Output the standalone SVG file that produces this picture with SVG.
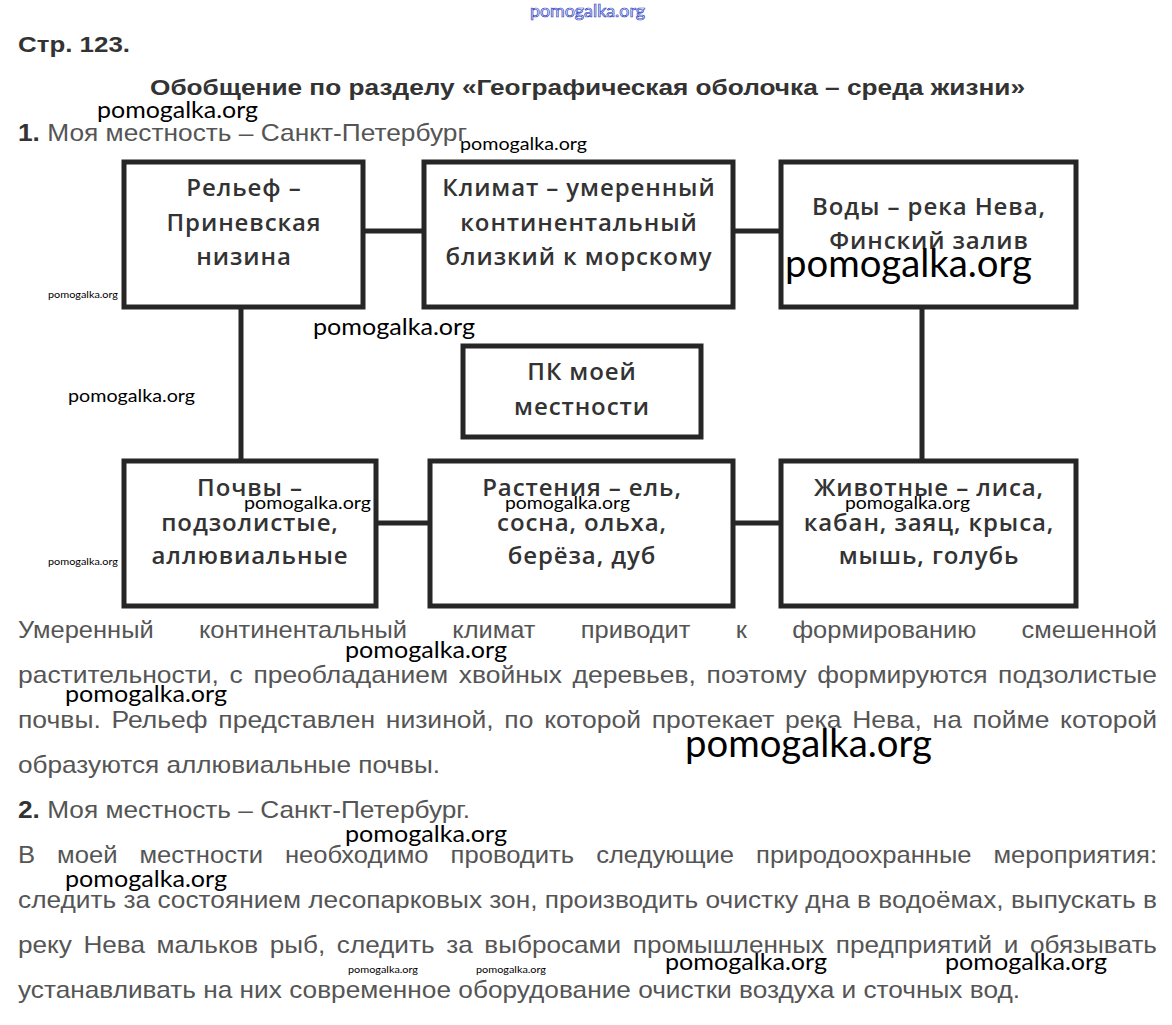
<svg xmlns="http://www.w3.org/2000/svg" width="1172" height="1025" viewBox="0 0 1172 1025">
<style>
.bx{fill:#fff;stroke:#262626;stroke-width:5}
.ln{stroke:#262626;stroke-width:5;fill:none}
.bt{font-family:"Open Sans","DejaVu Sans",sans-serif;font-size:24px;font-weight:600;fill:#333;text-anchor:middle;letter-spacing:0.9px}
.tx{font-family:"Liberation Sans",Arial,sans-serif;font-size:24px;fill:#555}
.hd{font-family:"Liberation Sans",Arial,sans-serif;font-size:22px;fill:#333;font-weight:bold}
.wm{font-family:Lato,"Open Sans",sans-serif;fill:#000}
</style>
<rect width="1172" height="1025" fill="#fff"/>
<text x="530" y="17" font-family="Lato,sans-serif" font-size="17" fill="#fff" stroke="#2a3cc0" stroke-width="0.7" textLength="115" lengthAdjust="spacingAndGlyphs">pomogalka.org</text>
<text x="18" y="52" class="hd" textLength="112" lengthAdjust="spacingAndGlyphs">Стр. 123.</text>
<text x="150" y="95" class="hd" textLength="875" lengthAdjust="spacingAndGlyphs">Обобщение по разделу «Географическая оболочка – среда жизни»</text>
<text x="18" y="141" class="tx" textLength="449" lengthAdjust="spacingAndGlyphs"><tspan font-weight="bold" fill="#333">1.</tspan> Моя местность – Санкт-Петербург</text>
<g id="connectors">
<line class="ln" x1="363" y1="231" x2="424" y2="231"/>
<line class="ln" x1="733" y1="231" x2="781" y2="231"/>
<line class="ln" x1="241" y1="307" x2="241" y2="461"/>
<line class="ln" x1="922" y1="307" x2="922" y2="461"/>
<line class="ln" x1="376" y1="523" x2="430" y2="523"/>
<line class="ln" x1="733" y1="523" x2="781" y2="523"/>
</g>
<g id="relief"><rect class="bx" x="124" y="162" width="239" height="145"/>
<text class="bt" x="244" y="196">Рельеф –</text><text class="bt" x="244" y="231">Приневская</text><text class="bt" x="244" y="265">низина</text></g>
<g id="climate"><rect class="bx" x="424" y="162" width="309" height="145"/>
<text class="bt" x="579" y="196">Климат – умеренный</text><text class="bt" x="579" y="231">континентальный</text><text class="bt" x="579" y="265">близкий к морскому</text></g>
<g id="waters"><rect class="bx" x="781" y="162" width="295" height="145"/>
<text class="bt" x="929" y="215">Воды – река Нева,</text><text class="bt" x="929" y="249">Финский залив</text></g>
<g id="pk"><rect class="bx" x="463" y="346" width="238" height="91"/>
<text class="bt" x="582" y="380">ПК моей</text><text class="bt" x="582" y="415">местности</text></g>
<g id="soils"><rect class="bx" x="124" y="461" width="252" height="145"/>
<text class="bt" x="250" y="496">Почвы –</text><text class="bt" x="250" y="531">подзолистые,</text><text class="bt" x="250" y="564">аллювиальные</text></g>
<g id="plants"><rect class="bx" x="430" y="461" width="303" height="145"/>
<text class="bt" x="582" y="496">Растения – ель,</text><text class="bt" x="582" y="531">сосна, ольха,</text><text class="bt" x="582" y="564">берёза, дуб</text></g>
<g id="animals"><rect class="bx" x="781" y="461" width="295" height="145"/>
<text class="bt" x="929" y="496">Животные – лиса,</text><text class="bt" x="929" y="531">кабан, заяц, крыса,</text><text class="bt" x="929" y="564">мышь, голубь</text></g>
<text class="tx" x="18" y="638" word-spacing="36" textLength="1139" lengthAdjust="spacingAndGlyphs">Умеренный континентальный климат приводит к формированию смешенной</text>
<text class="tx" x="18" y="683" word-spacing="3" textLength="1139" lengthAdjust="spacingAndGlyphs">растительности, с преобладанием хвойных деревьев, поэтому формируются подзолистые</text>
<text class="tx" x="18" y="728" word-spacing="3" textLength="1139" lengthAdjust="spacingAndGlyphs">почвы. Рельеф представлен низиной, по которой протекает река Нева, на пойме которой</text>
<text class="tx" x="18" y="773" textLength="422" lengthAdjust="spacingAndGlyphs">образуются аллювиальные почвы.</text>
<text class="tx" x="18" y="818" textLength="452" lengthAdjust="spacingAndGlyphs"><tspan font-weight="bold" fill="#333">2.</tspan> Моя местность – Санкт-Петербург.</text>
<text class="tx" x="18" y="863" word-spacing="14" textLength="1139" lengthAdjust="spacingAndGlyphs">В моей местности необходимо проводить следующие природоохранные мероприятия:</text>
<text class="tx" x="18" y="908" word-spacing="0" textLength="1139" lengthAdjust="spacingAndGlyphs">следить за состоянием лесопарковых зон, производить очистку дна в водоёмах, выпускать в</text>
<text class="tx" x="18" y="953" word-spacing="4" textLength="1139" lengthAdjust="spacingAndGlyphs">реку Нева мальков рыб, следить за выбросами промышленных предприятий и обязывать</text>
<text class="tx" x="18" y="998" textLength="1002" lengthAdjust="spacingAndGlyphs">устанавливать на них современное оборудование очистки воздуха и сточных вод.</text>
<g id="watermarks">
<text class="wm" x="97" y="118" font-size="24" textLength="161" lengthAdjust="spacingAndGlyphs">pomogalka.org</text>
<text class="wm" x="460" y="150" font-size="18" textLength="127" lengthAdjust="spacingAndGlyphs">pomogalka.org</text>
<text class="wm" x="785" y="277" font-size="38" textLength="247" lengthAdjust="spacingAndGlyphs">pomogalka.org</text>
<text class="wm" x="48" y="298" font-size="10" textLength="70" lengthAdjust="spacingAndGlyphs">pomogalka.org</text>
<text class="wm" x="313" y="335" font-size="24" textLength="162" lengthAdjust="spacingAndGlyphs">pomogalka.org</text>
<text class="wm" x="68" y="402" font-size="18" textLength="127" lengthAdjust="spacingAndGlyphs">pomogalka.org</text>
<text class="wm" x="244" y="509" font-size="18" textLength="127" lengthAdjust="spacingAndGlyphs">pomogalka.org</text>
<text class="wm" x="505" y="509" font-size="18" textLength="125" lengthAdjust="spacingAndGlyphs">pomogalka.org</text>
<text class="wm" x="845" y="509" font-size="18" textLength="125" lengthAdjust="spacingAndGlyphs">pomogalka.org</text>
<text class="wm" x="48" y="565" font-size="10" textLength="70" lengthAdjust="spacingAndGlyphs">pomogalka.org</text>
<text class="wm" x="345" y="658" font-size="24" textLength="162" lengthAdjust="spacingAndGlyphs">pomogalka.org</text>
<text class="wm" x="65" y="702" font-size="24" textLength="162" lengthAdjust="spacingAndGlyphs">pomogalka.org</text>
<text class="wm" x="685" y="757" font-size="38" textLength="247" lengthAdjust="spacingAndGlyphs">pomogalka.org</text>
<text class="wm" x="345" y="842" font-size="24" textLength="162" lengthAdjust="spacingAndGlyphs">pomogalka.org</text>
<text class="wm" x="65" y="887" font-size="24" textLength="162" lengthAdjust="spacingAndGlyphs">pomogalka.org</text>
<text class="wm" x="348" y="973" font-size="10" textLength="70" lengthAdjust="spacingAndGlyphs">pomogalka.org</text>
<text class="wm" x="476" y="973" font-size="10" textLength="70" lengthAdjust="spacingAndGlyphs">pomogalka.org</text>
<text class="wm" x="665" y="970" font-size="24" textLength="162" lengthAdjust="spacingAndGlyphs">pomogalka.org</text>
<text class="wm" x="945" y="970" font-size="24" textLength="162" lengthAdjust="spacingAndGlyphs">pomogalka.org</text>
</g>
</svg>
